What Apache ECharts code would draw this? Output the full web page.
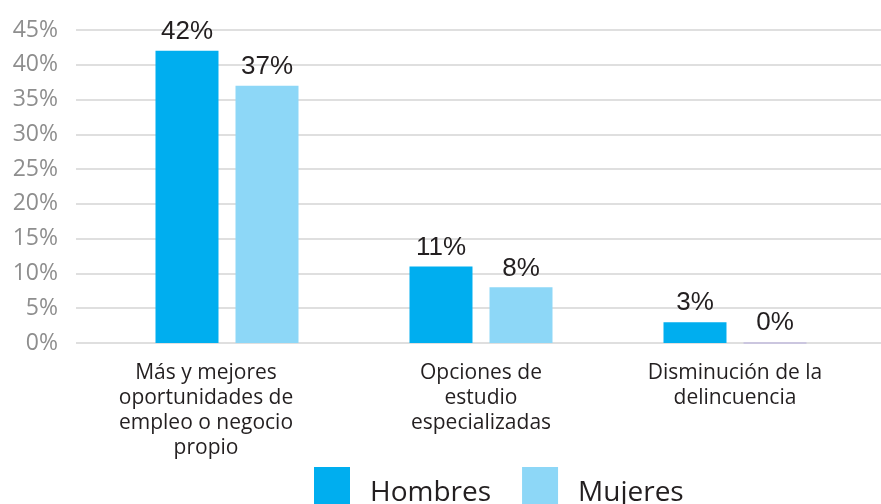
<!DOCTYPE html>
<html>
<head>
<meta charset="utf-8">
<script src="https://cdn.jsdelivr.net/npm/echarts@6/dist/echarts.min.js"></script>
<style>
  html, body { margin: 0; padding: 0; background: #fff; }
  #chart { width: 881px; height: 504px; }
</style>
</head>
<body>
<div id="chart"></div>
<script>
// datos del gráfico
const categorias = [
  'Más y mejores\noportunidades de\nempleo o negocio\npropio',
  'Opciones de\nestudio\nespecializadas',
  'Disminución de la\ndelincuencia'
];
const hombres = [42, 11, 3];
const mujeres = [37, 8, 0];
const ticksY = [0, 5, 10, 15, 20, 25, 30, 35, 40, 45];

const myChart = echarts.init(document.getElementById('chart'));

const labelTop = {
  show: true,
  position: 'top',
  distance: 6,
  formatter: '{c}%',
  color: '#231f20',
  fontFamily: 'Liberation Sans',
  fontSize: 26
};

// la primera etiqueta va algo corrida a la izquierda en el original
const catLabels = categorias.map(function (c, i) {
  return i === 0 ? {value: c, textStyle: {padding: [0, 42, 0, 0]}} : c;
});

myChart.setOption({
  animation: false,
  legend: {
    left: 314,
    top: 467,
    padding: 0,
    itemWidth: 36,
    itemHeight: 52,
    itemGap: 31,
    icon: 'rect',
    textStyle: {
      color: '#231f20',
      fontFamily: 'Open Sans',
      fontSize: 28,
      padding: [0, 0, 0, 15]
    },
    data: ['Hombres', 'Mujeres']
  },
  grid: [
    // rejilla con las líneas guía (ancho completo)
    {left: 76, right: 0, top: 30, bottom: 161},
    // rejilla de las barras
    {left: 100, right: 19, top: 30, bottom: 161}
  ],
  xAxis: [
    {gridIndex: 0, type: 'category', data: categorias, show: false},
    {
      gridIndex: 1,
      type: 'category',
      data: catLabels,
      axisLine: {show: false},
      axisTick: {show: false},
      axisLabel: {
        margin: 18,
        color: '#231f20',
        fontFamily: 'Open Sans',
        fontSize: 21,
        lineHeight: 25,
        align: 'center'
      }
    }
  ],
  yAxis: [
    {
      gridIndex: 0,
      type: 'value',
      min: ticksY[0],
      max: ticksY[ticksY.length - 1],
      interval: 5,
      axisLine: {show: false},
      axisTick: {show: false},
      splitLine: {lineStyle: {color: '#d4d4d4', width: 1.5}},
      axisLabel: {
        margin: 18,
        color: '#8e8e8e',
        fontFamily: 'Open Sans',
        fontSize: 23,
        formatter: '{value}%'
      }
    },
    {
      gridIndex: 1,
      type: 'value',
      min: ticksY[0],
      max: ticksY[ticksY.length - 1],
      interval: 5,
      show: false
    }
  ],
  series: [
    {
      name: 'Hombres',
      type: 'bar',
      xAxisIndex: 1,
      yAxisIndex: 1,
      barWidth: 63,
      barGap: '27%',
      itemStyle: {color: '#00aeef'},
      label: labelTop,
      data: hombres
    },
    {
      name: 'Mujeres',
      type: 'bar',
      xAxisIndex: 1,
      yAxisIndex: 1,
      barWidth: 63,
      itemStyle: {color: '#8dd7f7'},
      label: labelTop,
      data: mujeres.map(function (v) {
        if (v === 0) {
          return {value: v, itemStyle: {color: '#c5bfe0', borderColor: '#c5bfe0', borderWidth: 1.5}};
        }
        return v;
      })
    }
  ]
});
</script>
</body>
</html>
